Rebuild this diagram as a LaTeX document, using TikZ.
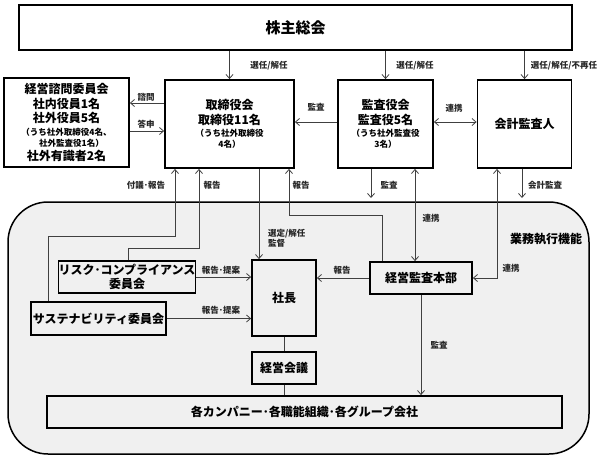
\documentclass[tikz,border=0pt]{standalone}
\usepackage{fontspec}
\setmainfont{Noto Sans CJK JP}
\usetikzlibrary{arrows.meta}
\definecolor{bgfill}{HTML}{F0F0F0}
\definecolor{conncol}{HTML}{404040}
\newcommand{\fsBig}{\fontsize{15}{18}\selectfont}
\newcommand{\fsMid}{\fontsize{12}{14.5}\selectfont}
\newcommand{\fsSm}{\fontsize{8.5}{10}\selectfont}
\tikzset{
  box/.style={draw=black, line width=1.8pt, inner sep=0pt, align=center, font=\fsMid\bfseries},
  conn/.style={draw=conncol, line width=0.8pt, arrows={-}},
  tip/.style={arrows={-{Straight Barb[length=4pt,width=7pt]}}},
  tips/.style={arrows={{Straight Barb[length=4pt,width=7pt]}-{Straight Barb[length=4pt,width=7pt]}}},
  lbl/.style={inner sep=0pt, font=\fsSm\bfseries, text=black!85},
}
\begin{document}
\begin{tikzpicture}[x=1pt,y=-1pt]
\useasboundingbox (0,0) rectangle (605,461);
% business execution area
\draw[fill=bgfill, line width=1.5pt, rounded corners=40pt] (8,202) rectangle (589,454);
\node[inner sep=0pt, font=\fsMid\bfseries] (gyomu) at (546,239) {業務執行機能};

% top level nodes
\node[box, font=\fsBig\bfseries, minimum width=553pt, minimum height=45pt] (soukai) at (295.5,27.5) {株主総会};
\node[box, minimum width=129pt, minimum height=88pt] (tori) at (229.5,124)
  {取締役会\\取締役11名\\[-2pt]\fsSm （うち社外取締役\\[-3.5pt]\fsSm 4名）};
\node[box, minimum width=125pt, minimum height=89pt] (shimon) at (66.5,122.5)
  {経営諮問委員会\\社内役員1名\\社外役員5名\\[-2pt]\fsSm （うち社外取締役4名、\\[-3.5pt]\fsSm\hspace*{10pt}社外監査役1名）\\社外有識者2名};
\node[box, minimum width=95pt, minimum height=88pt] (kansayaku) at (385.5,124)
  {監査役会\\監査役5名\\[-2pt]\fsSm （うち社外監査役\\[-3.5pt]\fsSm 3名）};
\node[box, minimum width=94pt, minimum height=88pt] (kaikei) at (524.5,124) {会計監査人};

% execution nodes
\node[box, fill=bgfill, minimum width=136pt, minimum height=32pt] (risk) at (127,277) {リスク･コンプライアンス\\委員会};
\node[box, fill=bgfill, minimum width=135pt, minimum height=33pt] (sus) at (98.5,318.5) {サステナビリティ委員会};
\node[box, fill=bgfill, minimum width=64pt, minimum height=76pt] (shacho) at (284,298) {社長};
\node[box, fill=bgfill, minimum width=102pt, minimum height=32pt] (honbu) at (421,278) {経営監査本部};
\node[box, fill=bgfill, minimum width=64pt, minimum height=32pt] (kaigi) at (284,368) {経営会議};
\node[box, fill=bgfill, minimum width=515pt, minimum height=32pt] (kaku) at (304.5,412) {各カンパニー･各職能組織･各グループ会社};

% helper coordinates
\coordinate (y103) at (0,103);
\coordinate (y131) at (0,131);
\coordinate (y122) at (0,122);
\coordinate (b1) at (48,236);
\coordinate (b2) at (175,236);
\coordinate (b3) at (128,248);
\coordinate (b4) at (199,248);
\coordinate (b5) at (259,0);
\coordinate (b6) at (382,215);
\coordinate (b7) at (289,215);
\coordinate (b8) at (371,198);
\coordinate (b9) at (415,0);
\coordinate (b10) at (522,198);
\coordinate (b11) at (497,278);

% connectors from shareholders meeting
\draw[conn,tip] (soukai.south -| tori.north) -- (tori.north);
\draw[conn,tip] (soukai.south -| kansayaku.north) -- (kansayaku.north);
\draw[conn,tip] (soukai.south -| kaikei.north) -- (kaikei.north);
\node[lbl] (l1) at (269,66) {選任/解任};
\node[lbl] (l2) at (415,66) {選任/解任};
\node[lbl] (l3) at (564,66) {選任/解任/不再任};

% board <-> advisory committee
\draw[conn,tip] (tori.west |- y103) -- (shimon.east |- y103);
\draw[conn,tip] (shimon.east |- y131) -- (tori.west |- y131);
\node[lbl] (l4) at (146,97) {諮問};
\node[lbl] (l5) at (146,124) {答申};

% audit board
\draw[conn,tip] (kansayaku.west |- y122) -- (tori.east |- y122);
\node[lbl] (l6) at (316,107) {監査};
\draw[conn,tips] (kansayaku.east |- y122) -- (kaikei.west |- y122);
\node[lbl] (l7) at (454,108) {連携};

% lines below board
\draw[conn,tip] (sus.north -| b1) -- (b1) -- (b2) -- (tori.south -| b2);
\node[lbl] (l8) at (146,185) {付議･報告};
\draw[conn,tip] (risk.north -| b3) -- (b3) -- (b4) -- (tori.south -| b4);
\node[lbl] (l9) at (212,185) {報告};
\draw[conn,tip] (tori.south -| b5) -- (shacho.north -| b5);
\node[lbl, anchor=west, align=left] (l10) at (268,238.5) {選定/解任\\監督};
\draw[conn,tip] (honbu.north -| b6) -- (b6) -- (b7) -- (tori.south -| b7);
\node[lbl] (l11) at (301,185) {報告};

% below audit board & accounting auditor
\draw[conn,tip] (kansayaku.south -| b8) -- (b8);
\node[lbl] (l12) at (389,185) {監査};
\draw[conn,tips] (kansayaku.south -| b9) -- (honbu.north -| b9);
\node[lbl] (l13) at (431,218) {連携};
\draw[conn,tip] (kaikei.south -| b10) -- (b10);
\node[lbl] (l14) at (545,185) {会計監査};
\draw[conn,tips] (kaikei.south -| b11) -- (b11) -- (honbu.east);
\node[lbl] (l15) at (511,268) {連携};

% inside execution
\draw[conn,tip] (honbu.west) -- (shacho.east |- honbu.west);
\node[lbl] (l16) at (342,270) {報告};
\draw[conn,tip] (risk.east) -- (shacho.west |- risk.east);
\node[lbl] (l17) at (221,270) {報告･提案};
\draw[conn,tip] (sus.east) -- (shacho.west |- sus.east);
\node[lbl] (l18) at (221,310) {報告･提案};
\draw[conn] (shacho.south) -- (kaigi.north);
\draw[conn] (kaigi.south) -- (kaku.north -| kaigi.south);
\draw[conn,tip] (honbu.south) -- (kaku.north -| honbu.south);
\node[lbl] (l19) at (439,345) {監査};
\end{tikzpicture}
\end{document}
